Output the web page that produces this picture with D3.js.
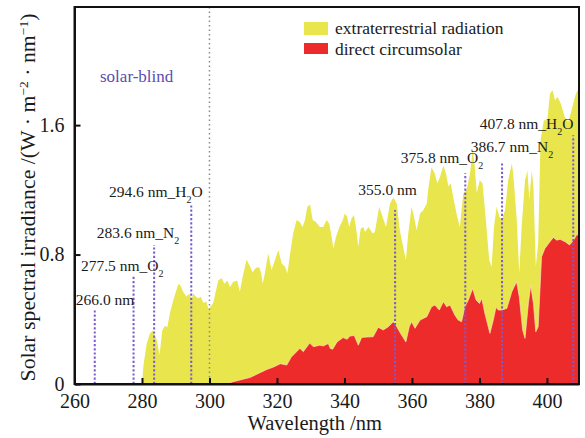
<!DOCTYPE html>
<html>
<head>
<meta charset="utf-8">
<script src="https://cdn.jsdelivr.net/npm/d3@7/dist/d3.min.js"></script>
<style>
  html, body { margin: 0; padding: 0; background: #fff; }
  svg { display: block; }
  text { font-family: "Liberation Serif", "DejaVu Serif", serif; fill: #1a1a1a; }
</style>
</head>
<body>
<svg id="chart" width="585" height="438"></svg>
<script>
// Extraterrestrial spectrum (wavelength nm, irradiance W·m^-2·nm^-1)
const extraWl = [280.0,280.4,281.4,282.3,283.2,284.4,285.2,286.0,286.8,287.5,288.3,289.3,290.8,291.5,292.2,293.2,294.0,294.7,295.2,296.0,296.7,297.4,298.2,299.0,299.8,300.4,301.1,302.6,303.6,304.4,305.3,306.1,307.0,308.2,309.0,310.0,311.0,311.8,312.8,313.8,314.8,315.3,315.8,316.4,317.4,318.4,319.4,320.4,321.4,322.4,323.1,323.9,324.8,325.8,326.8,327.6,328.3,329.0,329.8,330.6,331.6,332.7,333.7,334.7,335.5,336.2,336.7,337.5,338.5,339.5,340.1,340.8,341.4,342.1,342.8,343.4,344.1,344.8,345.6,346.1,347.1,348.4,349.0,350.3,351.3,352.3,353.5,354.5,355.5,356.4,357.4,358.2,358.9,359.9,360.6,361.4,362.4,363.4,364.4,364.8,365.8,366.8,367.5,368.3,369.3,370.1,370.8,371.5,372.4,373.4,374.2,375.2,376.2,377.2,378.0,378.6,379.2,380.1,380.9,381.9,382.9,383.6,384.3,385.1,385.9,386.6,387.6,388.5,389.6,390.0,391.0,391.8,392.5,393.5,394.2,394.8,395.5,396.0,396.7,397.4,398.1,399.1,400.1,400.9,401.7,402.4,403.1,404.1,405.3,406.3,407.3,408.3,409.0,409.5];
const extraVal = [0.0,0.11,0.25,0.31,0.33,0.27,0.18,0.33,0.36,0.35,0.44,0.52,0.62,0.605,0.57,0.54,0.56,0.52,0.56,0.54,0.53,0.54,0.50,0.51,0.46,0.48,0.50,0.64,0.655,0.62,0.64,0.60,0.63,0.64,0.57,0.68,0.77,0.735,0.69,0.72,0.72,0.685,0.62,0.684,0.807,0.704,0.766,0.828,0.745,0.724,0.684,0.807,0.93,1.013,1.0,0.97,1.013,1.095,1.11,1.013,1.0,0.97,0.97,1.013,0.99,0.91,0.838,0.91,0.97,1.013,1.054,1.033,0.97,1.023,1.044,0.97,0.848,0.96,0.97,0.94,0.97,0.93,0.94,1.095,1.033,0.97,1.116,1.153,1.116,0.95,0.848,0.766,0.93,1.095,1.033,0.95,1.054,1.075,1.116,1.2,1.34,1.30,1.24,1.28,1.35,1.30,1.22,1.24,1.137,1.033,0.97,1.178,1.2,1.30,1.45,1.35,1.18,1.26,1.24,1.013,0.766,0.724,0.97,1.095,1.033,1.013,1.075,1.26,1.363,1.30,1.033,0.684,0.97,1.26,1.32,1.137,1.32,1.22,0.724,0.87,1.507,1.63,1.63,1.795,1.816,1.754,1.775,1.734,1.65,1.62,1.69,1.775,1.816,1.80];

// Direct circumsolar spectrum at ground level
const directWl = [305.0,307.0,310.0,312.0,315.0,317.0,319.0,321.0,322.9,324.2,326.3,326.8,327.8,329.7,330.8,332.7,333.7,335.2,335.8,336.5,337.8,339.6,340.8,341.6,342.9,344.1,345.1,346.6,348.5,350.0,351.5,353.0,354.5,355.5,356.6,358.2,359.2,359.9,360.9,362.4,364.4,365.8,366.8,368.1,369.3,370.3,371.3,372.7,373.7,374.7,375.7,376.7,378.0,379.0,380.0,380.7,381.6,383.1,384.1,384.9,385.6,386.6,388.1,389.6,391.0,391.8,392.8,393.5,394.5,395.2,396.0,396.7,397.4,398.4,399.4,400.9,401.9,402.9,403.9,405.4,406.7,407.9,408.9,409.5];
const directVal = [0.0,0.014,0.03,0.04,0.07,0.09,0.105,0.125,0.117,0.165,0.21,0.22,0.2,0.253,0.23,0.24,0.235,0.25,0.22,0.215,0.26,0.287,0.276,0.296,0.30,0.24,0.288,0.29,0.292,0.35,0.334,0.354,0.385,0.354,0.313,0.26,0.354,0.385,0.344,0.395,0.416,0.477,0.488,0.457,0.508,0.477,0.488,0.426,0.395,0.385,0.477,0.519,0.59,0.519,0.498,0.529,0.437,0.313,0.395,0.474,0.457,0.457,0.467,0.57,0.632,0.54,0.334,0.282,0.498,0.61,0.498,0.323,0.354,0.786,0.838,0.879,0.906,0.889,0.894,0.879,0.859,0.889,0.926,0.91];

// Absorption markers: wavelength, marker height, label parts
const markWl = [266.0, 277.5, 283.6, 294.6, 355.0, 375.8, 386.7, 407.8];
const markTop = [0.457, 0.667, 0.859, 1.112, 1.075, 1.303, 1.371, 1.538];
const markLabel = ["266.0 nm", "277.5 nm_O", "283.6 nm_N", "294.6 nm_H", "355.0 nm", "375.8 nm_O", "386.7 nm_N", "407.8 nm_H"];
const markSub = ["", "2", "2", "2", "", "2", "2", "2"];
const markTail = ["", "", "", "O", "", "", "", "O"];
// Label anchor (start of text, baseline) in data units
const labelWl = [260.4, 261.9, 266.6, 270.2, 344.1, 356.7, 377.4, 380.1];
const labelVal = [0.488, 0.698, 0.902, 1.157, 1.167, 1.367, 1.435, 1.579];

const xTicks = [260, 280, 300, 320, 340, 360, 380, 400];
const yTicks = [0, 0.8, 1.6];
const solarBlindEdge = 300;
const legendNames = ["extraterrestrial radiation", "direct circumsolar"];

const COLORS = { extra: "#e8e64c", direct: "#ee2b2b", mark: "#7a5ccc", blind: "#5b4db3" };

const svg = d3.select("#chart");
const pL = 74.5, pR = 579, pT = 7, pB = 384;
const x = d3.scaleLinear().domain([260, 409.5]).range([pL, pR]);
const y = d3.scaleLinear().domain([0, 2.33]).range([pB, pT]);

svg.append("defs").append("clipPath").attr("id", "plotClip")
  .append("rect").attr("x", pL).attr("y", pT).attr("width", pR - pL).attr("height", pB - pT);

const plot = svg.append("g").attr("clip-path", "url(#plotClip)");

const area = d3.area()
  .x(d => x(d[0]))
  .y0(y(0))
  .y1(d => y(d[1]));

const extra = d3.zip(extraWl, extraVal);
const direct = d3.zip(directWl, directVal);

plot.append("path").datum(extra).attr("d", area).attr("fill", COLORS.extra);
plot.append("path").datum(direct).attr("d", area)
  .attr("fill", COLORS.direct)
  .attr("stroke", "#f8e8c8").attr("stroke-width", 0.8).attr("stroke-opacity", 0.8);

// solar-blind boundary
plot.append("line")
  .attr("x1", x(solarBlindEdge)).attr("x2", x(solarBlindEdge))
  .attr("y1", pT).attr("y2", pB)
  .attr("stroke", "#8a8a8a").attr("stroke-width", 1.5)
  .attr("stroke-dasharray", "1.5,3");

// absorption marker lines
markWl.forEach((w, i) => {
  plot.append("line")
    .attr("x1", x(w)).attr("x2", x(w))
    .attr("y1", y(0)).attr("y2", y(markTop[i]))
    .attr("stroke", COLORS.mark).attr("stroke-width", 2)
    .attr("stroke-dasharray", "2.2,2");
});

// frame
svg.append("rect")
  .attr("x", pL).attr("y", pT).attr("width", pR - pL).attr("height", pB - pT)
  .attr("fill", "none").attr("stroke", "#111").attr("stroke-width", 2);

// axes with inward ticks
const xAxis = d3.axisBottom(x).tickValues(xTicks).tickFormat(d3.format("d")).tickSizeInner(-6).tickSizeOuter(0).tickPadding(10);
const gx = svg.append("g").attr("transform", `translate(0,${pB})`).call(xAxis);
gx.select(".domain").attr("stroke", "#111").attr("stroke-width", 2);
gx.selectAll(".tick line").attr("stroke", "#111").attr("stroke-width", 2);
gx.selectAll(".tick text").attr("font-size", 20).attr("font-family", "Liberation Serif").attr("fill", "#1a1a1a");

const yAxis = d3.axisLeft(y).tickValues(yTicks).tickFormat(d => d === 0 ? "0" : d3.format(".1f")(d)).tickSizeInner(-6).tickSizeOuter(0).tickPadding(10);
const gy = svg.append("g").attr("transform", `translate(${pL},0)`).call(yAxis);
gy.select(".domain").attr("stroke", "#111").attr("stroke-width", 2);
gy.selectAll(".tick line").attr("stroke", "#111").attr("stroke-width", 2);
gy.selectAll(".tick text").attr("font-size", 20).attr("font-family", "Liberation Serif").attr("fill", "#1a1a1a");

// axis titles
svg.append("text")
  .attr("x", (pL + pR) / 2 - 12).attr("y", 430)
  .attr("text-anchor", "middle").attr("font-size", 20.5)
  .text("Wavelength /nm");

const yt = svg.append("text")
  .attr("transform", `translate(35,197.5) rotate(-90)`)
  .attr("text-anchor", "middle").attr("font-size", 21.8);
yt.append("tspan").text("Solar spectral irradiance /(W · m");
yt.append("tspan").attr("baseline-shift", "super").attr("font-size", 13.5).text("−2");
yt.append("tspan").text(" · nm");
yt.append("tspan").attr("baseline-shift", "super").attr("font-size", 13.5).text("−1");
yt.append("tspan").text(")");

// marker labels
markWl.forEach((w, i) => {
  const t = svg.append("text")
    .attr("x", x(labelWl[i])).attr("y", y(labelVal[i]))
    .attr("font-size", 15.5);
  t.append("tspan").text(markLabel[i]);
  if (markSub[i]) t.append("tspan").attr("baseline-shift", "sub").attr("font-size", 10).text(markSub[i]);
  if (markTail[i]) t.append("tspan").text(markTail[i]);
});

// solar-blind note
svg.append("text")
  .attr("x", 100).attr("y", 82)
  .attr("font-size", 17).style("fill", COLORS.blind)
  .text("solar-blind");

// legend
const legColors = [COLORS.extra, COLORS.direct];
legendNames.forEach((name, i) => {
  const ly = 22 + i * 21;
  svg.append("rect").attr("x", 304).attr("y", ly).attr("width", 24).attr("height", i === 0 ? 13 : 11)
    .attr("fill", legColors[i]);
  svg.append("text").attr("x", 335).attr("y", ly + 12).attr("font-size", 17.5).text(name);
});
</script>
</body>
</html>
